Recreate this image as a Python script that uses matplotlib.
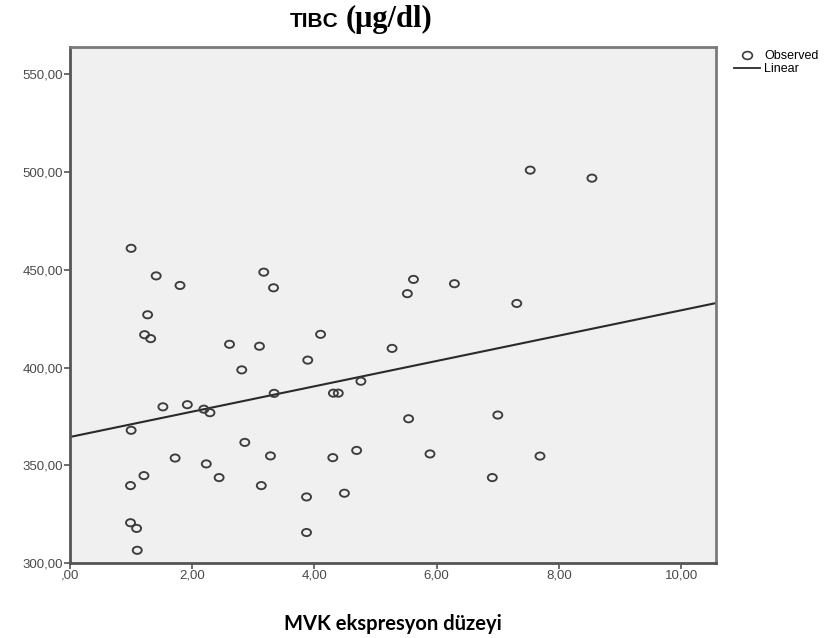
import numpy as np
import matplotlib
matplotlib.use("Agg")
import matplotlib.pyplot as plt
from matplotlib.ticker import FuncFormatter, FixedLocator
from matplotlib.lines import Line2D
from matplotlib.path import Path

# MVK ekspresyon düzeyi (x) ve TIBC (y) değerleri
mvk = [1.00, 1.41, 1.80, 1.27, 1.22, 1.32, 2.61, 3.10, 3.17, 3.33,
       4.10, 3.89, 2.81, 3.34, 1.52, 1.92, 2.19, 2.29, 1.00, 2.86,
       1.72, 3.28, 2.23, 1.21, 2.44, 0.99, 3.13, 3.87, 0.99, 1.09,
       3.87, 1.10, 7.53, 8.54, 5.62, 5.52, 6.29, 7.31, 5.27, 4.31,
       4.39, 4.76, 5.54, 7.00, 4.30, 4.69, 5.89, 7.69, 6.91, 4.49]
tibc = [461.0, 446.9, 442.0, 427.0, 416.8, 414.8, 411.9, 410.9, 448.8, 440.8,
        417.0, 403.8, 398.8, 386.8, 379.9, 381.0, 378.7, 376.9, 367.9, 361.7,
        353.7, 354.8, 350.7, 344.7, 343.7, 339.6, 339.6, 333.8, 320.6, 317.7,
        315.6, 306.5, 501.0, 496.9, 445.1, 437.8, 442.9, 432.8, 409.8, 386.9,
        386.9, 393.0, 373.8, 375.7, 353.9, 357.6, 355.8, 354.7, 343.7, 335.7]

x_ticks = [0, 2, 4, 6, 8, 10]
y_ticks = [300, 350, 400, 450, 500, 550]


def virgul(v, pos=None):
    s = "%.2f" % v
    s = s.replace(".", ",")
    if s.startswith("0,"):
        s = s[1:]
    return s


# hafif yatay basık daire (SPSS işaretçisi gibi)
circ = Path.unit_circle()
oval = Path(circ.vertices * np.array([1.0, 0.8]), circ.codes)

fig = plt.figure(figsize=(8.4, 6.38), dpi=100)
ax = fig.add_axes([70 / 840, 75 / 638, 646 / 840, 516 / 638])
ax.set_facecolor("#f0f0f0")

# gözlenen değerler
ax.scatter(mvk, tibc, s=42, marker=oval, facecolors="none",
           edgecolors="#3c3c3c", linewidths=1.35, zorder=3)

# doğrusal uyum
b, a = np.polyfit(mvk, tibc, 1)
xs = np.array([0, 10.57])
ax.plot(xs, a + b * xs, color="#2a2a2a", lw=1.5, zorder=2)

ax.set_xlim(0, 10.57)
ax.set_ylim(300, 564)
ax.xaxis.set_major_locator(FixedLocator(x_ticks))
ax.yaxis.set_major_locator(FixedLocator(y_ticks))
ax.xaxis.set_major_formatter(FuncFormatter(virgul))
ax.yaxis.set_major_formatter(FuncFormatter(virgul))
ax.tick_params(direction="out", length=4, width=1.2, colors="#555555",
               labelsize=9.5, labelcolor="#4a4a4a", pad=1)
for lbl in ax.get_xticklabels() + ax.get_yticklabels():
    lbl.set_family("Liberation Sans")
for sp in ax.spines.values():
    sp.set_color("#7a7a7a")
    sp.set_linewidth(2)
ax.spines["left"].set_color("#555555")
ax.spines["bottom"].set_color("#555555")

# başlık
fig.text(339 / 840, 1 - 27 / 638, "TIBC", ha="right", va="baseline",
         fontsize=15, fontweight="bold",
         family=["Liberation Sans Narrow", "Liberation Sans"])
fig.text(346 / 840, 1 - 27 / 638, "(\u03bcg/dl)", ha="left", va="baseline",
         fontsize=22, fontweight="bold", family="Liberation Serif")

# eksen başlığı
fig.text(393 / 840, 1 - 624 / 638, "MVK ekspresyon düzeyi", ha="center",
         va="center", fontsize=14.5, fontweight="bold", family="Lato")

# lejant
handles = [Line2D([], [], marker=oval, ls="none", mfc="none", mec="#3c3c3c",
                  ms=7, mew=1.2),
           Line2D([], [], color="#2a2a2a", lw=1.3)]
fig.legend(handles, ["Observed", "Linear"], loc="upper left",
           bbox_to_anchor=(734 / 840, 1 - 50 / 638), frameon=False,
           handlelength=2.1, handletextpad=0.3,
           labelspacing=0.1, borderaxespad=0, borderpad=0,
           prop={"family": "Liberation Sans", "size": 9})

fig.savefig("out.png", dpi=100)
